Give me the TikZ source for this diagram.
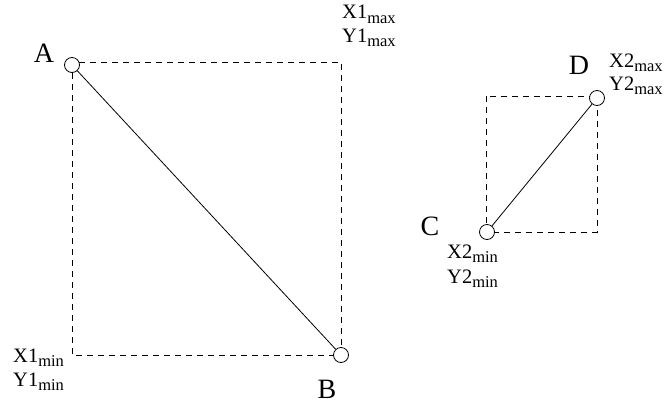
\documentclass[tikz,border=0pt]{standalone}
\usepackage{fontspec}
\setmainfont{Liberation Serif}
\newcommand\lowtxt[1]{\raisebox{-4.5pt}{\fontsize{16.5}{16.5}\selectfont #1}}
\begin{document}
\begin{tikzpicture}[x=1pt,y=-1pt,
  pt/.style={circle,draw,fill=white,inner sep=0pt,minimum size=15pt,line width=0.8pt},
  box/.style={dashed,dash pattern=on 6pt off 5pt,line width=0.8pt},
  link/.style={line width=0.8pt},
  big/.style={font=\fontsize{28}{30}\selectfont,inner sep=0pt},
  small/.style={font=\fontsize{20.5}{22}\selectfont,inner sep=0pt,anchor=base west}]
\useasboundingbox (0,0) rectangle (664,405);
% first box
\coordinate (tl1) at (72,62);
\coordinate (br1) at (341,355);
\draw[box] (tl1) rectangle (br1);
\node[pt] (A) at (72,65) {};
\node[pt] (B) at (341,355) {};
\draw[link] (A) -- (B);
% second box
\coordinate (tl2) at (486,96);
\coordinate (br2) at (597,232);
\draw[box] (tl2) rectangle (br2);
\node[pt] (C) at (487,232) {};
\node[pt] (D) at (597,98) {};
\draw[link] (C) -- (D);
% labels
\node[big] (lA) at (44,53.5) {A};
\node[big] (lB) at (327,389) {B};
\node[big] (lC) at (430,226) {C};
\node[big] (lD) at (579,65) {D};
\node[small] (x1max) at (342,18.5) {X1\lowtxt{max}};
\node[small] (y1max) at (342,42) {Y1\lowtxt{max}};
\node[small] (x1min) at (13,362) {X1\lowtxt{min}};
\node[small] (y1min) at (13,386) {Y1\lowtxt{min}};
\node[small] (x2max) at (609,67) {X2\lowtxt{max}};
\node[small] (y2max) at (609,90) {Y2\lowtxt{max}};
\node[small] (x2min) at (447,258) {X2\lowtxt{min}};
\node[small] (y2min) at (447,283) {Y2\lowtxt{min}};
\end{tikzpicture}
\end{document}
